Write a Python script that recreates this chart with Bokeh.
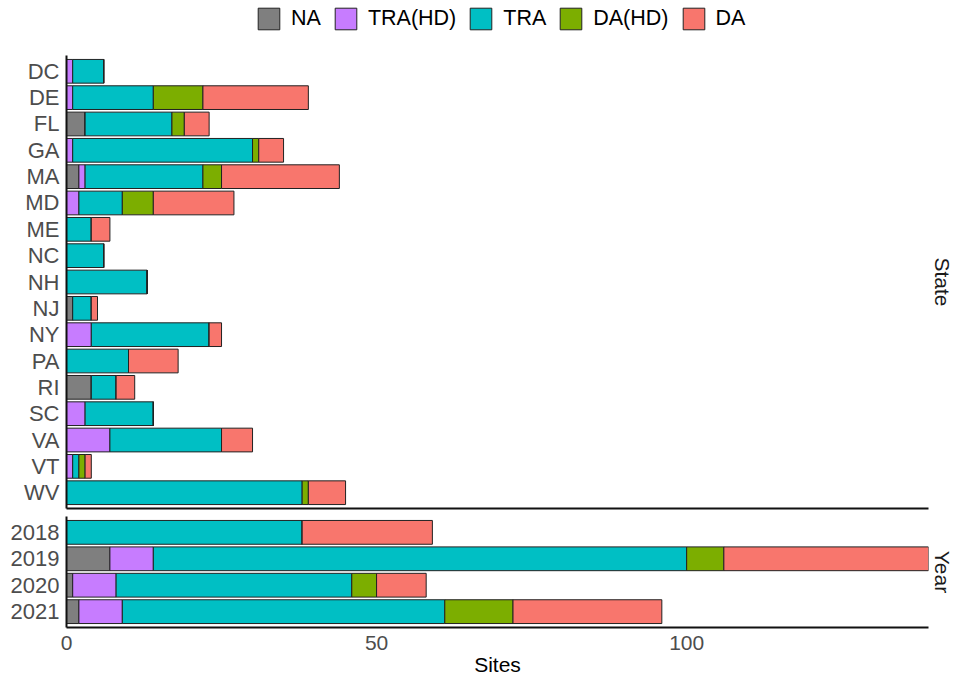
import numpy as np
from bokeh.plotting import figure
from bokeh.models import (ColumnDataSource, FactorRange, Range1d, Legend, LegendItem,
                          Title, FixedTicker)
from bokeh.layouts import column
from bokeh.embed import file_html
from bokeh.resources import INLINE

# ---------------- data ----------------
categories = ["NA", "TRA(HD)", "TRA", "DA(HD)", "DA"]
colors = ["#7F7F7F", "#C77CFF", "#00BFC4", "#7CAE00", "#F8766D"]

states = ["DC", "DE", "FL", "GA", "MA", "MD", "ME", "NC", "NH", "NJ",
          "NY", "PA", "RI", "SC", "VA", "VT", "WV"]
state_na     = [0, 0, 3, 0, 2, 0, 0, 0, 0, 1, 0, 0, 4, 0, 0, 0, 0]
state_tra_hd = [1, 1, 0, 1, 1, 2, 0, 0, 0, 0, 4, 0, 0, 3, 7, 1, 0]
state_tra    = [5, 13, 14, 29, 19, 7, 4, 6, 13, 3, 19, 10, 4, 11, 18, 1, 38]
state_da_hd  = [0, 8, 2, 1, 3, 5, 0, 0, 0, 0, 0, 0, 0, 0, 0, 1, 1]
state_da     = [0, 17, 4, 4, 19, 13, 3, 0, 0, 1, 2, 8, 3, 0, 5, 1, 6]

years = ["2018", "2019", "2020", "2021"]
year_na     = [0, 7, 1, 2]
year_tra_hd = [0, 7, 7, 7]
year_tra    = [38, 86, 38, 52]
year_da_hd  = [0, 6, 4, 11]
year_da     = [21, 33, 8, 24]

x_ticks = [0, 50, 100]
x_title = "Sites"

FONT = "Liberation Sans"
x_end = max(sum(v) for v in zip(year_na, year_tra_hd, year_tra, year_da_hd, year_da))

LEFT, FRAME_W, RIGHT = 66, 862, 28


def make_panel(factors, series, frame_h, strip, bottom):
    data = {"cat": factors}
    for c, s in zip(categories, series):
        data[c] = s
    src = ColumnDataSource(data)
    p = figure(y_range=FactorRange(factors=list(reversed(factors)), range_padding=0.1,
                                   range_padding_units="absolute"),
               x_range=Range1d(0, x_end),
               frame_width=FRAME_W, frame_height=frame_h,
               min_border_left=LEFT, min_border_right=RIGHT,
               min_border_top=(19 if not bottom else 4),
               min_border_bottom=(4 if not bottom else 0),
               output_backend="svg", toolbar_location=None)
    p.hbar_stack(categories, y="cat", height=0.9, source=src,
                 fill_color=colors, line_color="#222222", line_width=1)
    p.grid.visible = False
    p.outline_line_color = None
    p.background_fill_color = "white"

    ya = p.yaxis[0]
    ya.major_tick_line_color = None
    ya.minor_tick_line_color = None
    ya.major_label_standoff = 1
    ya.major_label_text_font = FONT
    ya.major_label_text_font_size = "22px"
    ya.major_label_text_color = "#4D4D4D"
    ya.axis_line_width = 2
    ya.axis_line_color = "#111111"

    xa = p.xaxis[0]
    xa.major_tick_line_color = None
    xa.minor_tick_line_color = None
    xa.axis_line_width = 2
    xa.axis_line_color = "#111111"
    if bottom:
        xa.ticker = FixedTicker(ticks=x_ticks)
        xa.major_label_standoff = 2
        xa.major_label_text_font = FONT
        xa.major_label_text_font_size = "21px"
        xa.major_label_text_color = "#4D4D4D"
        xa.axis_label = x_title
        xa.axis_label_standoff = 0
        xa.axis_label_text_font = FONT
        xa.axis_label_text_font_size = "21px"
        xa.axis_label_text_font_style = "normal"
        xa.axis_label_text_color = "black"
    else:
        xa.ticker = FixedTicker(ticks=[])
        xa.major_label_standoff = 0

    p.add_layout(Title(text=strip, align="center", text_font=FONT, text_font_size="21px",
                       text_font_style="normal", text_color="#1A1A1A", standoff=4), "right")
    return p


top = make_panel(states, [state_na, state_tra_hd, state_tra, state_da_hd, state_da],
                 453, "State", False)
bot = make_panel(years, [year_na, year_tra_hd, year_tra, year_da_hd, year_da],
                 111, "Year", True)

# legend strip (its glyphs carry no drawable data; they only provide the legend keys)
lf = figure(frame_width=FRAME_W, frame_height=36, min_border_left=LEFT, min_border_right=RIGHT,
            min_border_top=0, min_border_bottom=0,
            x_range=Range1d(0, 1), y_range=Range1d(0, 1),
            x_axis_type=None, y_axis_type=None,
            output_backend="svg", toolbar_location=None)
lf.grid.visible = False
lf.outline_line_color = None
items = []
for c, col in zip(categories, colors):
    r = lf.hbar(y=np.array([np.nan]), right=np.array([np.nan]), height=0.9,
                fill_color=col, line_color="#222222", line_width=1)
    items.append(LegendItem(label=c, renderers=[r]))
leg = Legend(items=items, orientation="horizontal", location=(189, 4),
             glyph_width=27, glyph_height=27, label_standoff=9, spacing=11,
             padding=0, margin=0, border_line_color=None, background_fill_alpha=0,
             label_text_font=FONT, label_text_font_size="21.5px", label_text_color="black")
lf.add_layout(leg)

layout = column(lf, top, bot)
open("out.html", "w").write(file_html(layout, INLINE))
